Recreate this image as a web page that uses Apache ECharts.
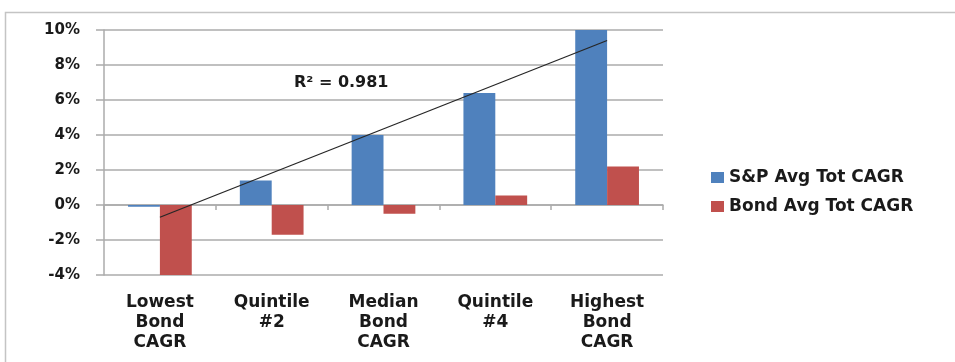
<!DOCTYPE html>
<html>
<head>
<meta charset="utf-8">
<script src="https://cdn.jsdelivr.net/npm/echarts@6/dist/echarts.min.js"></script>
<style>
html,body{margin:0;padding:0;background:#fff;}
#chart{width:955px;height:362px;}
</style>
</head>
<body>
<div id="chart"></div>
<script>
const categories = ['Lowest\nBond\nCAGR', 'Quintile\n#2', 'Median\nBond\nCAGR', 'Quintile\n#4', 'Highest\nBond\nCAGR'];
const spValues = [-0.1, 1.4, 4.0, 6.4, 10.0];
const bondValues = [-4.0, -1.7, -0.5, 0.55, 2.2];
const trendValues = [-0.7, null, null, null, 9.4];
const seriesNames = ['S&P Avg Tot CAGR', 'Bond Avg Tot CAGR'];
const rSquaredLabel = 'R\u00B2 = 0.981';

const FONT = 'DejaVu Sans';
const TXT = '#1a1a1a';
const GRID_COLOR = '#ababab';

const chart = echarts.init(document.getElementById('chart'), null, {renderer: 'canvas'});
chart.setOption({
  backgroundColor: '#ffffff',
  animation: false,
  textStyle: {fontFamily: FONT},
  graphic: [
    {
      type: 'rect',
      shape: {x: 5.5, y: 12.5, width: 1000, height: 400},
      style: {fill: 'none', stroke: '#c4c4c4', lineWidth: 1.5},
      silent: true
    },
    {
      type: 'text',
      left: 294,
      top: 75,
      style: {text: rSquaredLabel, font: 'bold 16px "DejaVu Sans"', fill: TXT},
      silent: true
    }
  ],
  legend: {
    data: seriesNames,
    orient: 'vertical',
    left: 706,
    top: 164,
    itemWidth: 13,
    itemHeight: 11,
    itemGap: 12,
    icon: 'rect',
    textStyle: {fontFamily: FONT, fontWeight: 'bold', fontSize: 17, color: TXT}
  },
  grid: {left: 104, right: 292, top: 30, bottom: 87, containLabel: false},
  xAxis: [
    {
      type: 'category',
      data: categories,
      position: 'bottom',
      axisLine: {show: false, onZero: false},
      axisTick: {show: false},
      axisLabel: {
        margin: 18,
        fontFamily: FONT, fontWeight: 'bold', fontSize: 17, lineHeight: 20, color: TXT,
        interval: 0
      },
      splitLine: {show: false}
    },
    {
      type: 'category',
      data: categories,
      position: 'bottom',
      axisLine: {show: true, onZero: true, lineStyle: {color: GRID_COLOR, width: 1.5}},
      axisTick: {show: true, length: 5, lineStyle: {color: GRID_COLOR, width: 1.5}},
      axisLabel: {show: false},
      splitLine: {show: false}
    }
  ],
  yAxis: {
    type: 'value',
    min: -4,
    max: 10,
    interval: 2,
    axisLine: {show: true, lineStyle: {color: GRID_COLOR, width: 1.5}},
    axisTick: {show: true, length: 8, lineStyle: {color: GRID_COLOR, width: 1.5}},
    axisLabel: {
      formatter: '{value}%',
      margin: 24,
      fontFamily: FONT, fontWeight: 'bold', fontSize: 15, color: TXT
    },
    splitLine: {show: true, lineStyle: {color: GRID_COLOR, width: 1.5}}
  },
  series: [
    {
      name: seriesNames[0],
      type: 'bar',
      xAxisIndex: 0,
      data: spValues,
      barGap: '0%',
      barCategoryGap: '43%',
      itemStyle: {color: '#4f81bd'}
    },
    {
      name: seriesNames[1],
      type: 'bar',
      xAxisIndex: 0,
      data: bondValues,
      barGap: '0%',
      barCategoryGap: '43%',
      itemStyle: {color: '#c0504d'}
    },
    {
      name: 'Linear trend',
      type: 'line',
      xAxisIndex: 0,
      data: trendValues,
      connectNulls: true,
      symbol: 'none',
      lineStyle: {color: '#262626', width: 1.3},
      z: 5
    }
  ]
});
</script>
</body>
</html>
